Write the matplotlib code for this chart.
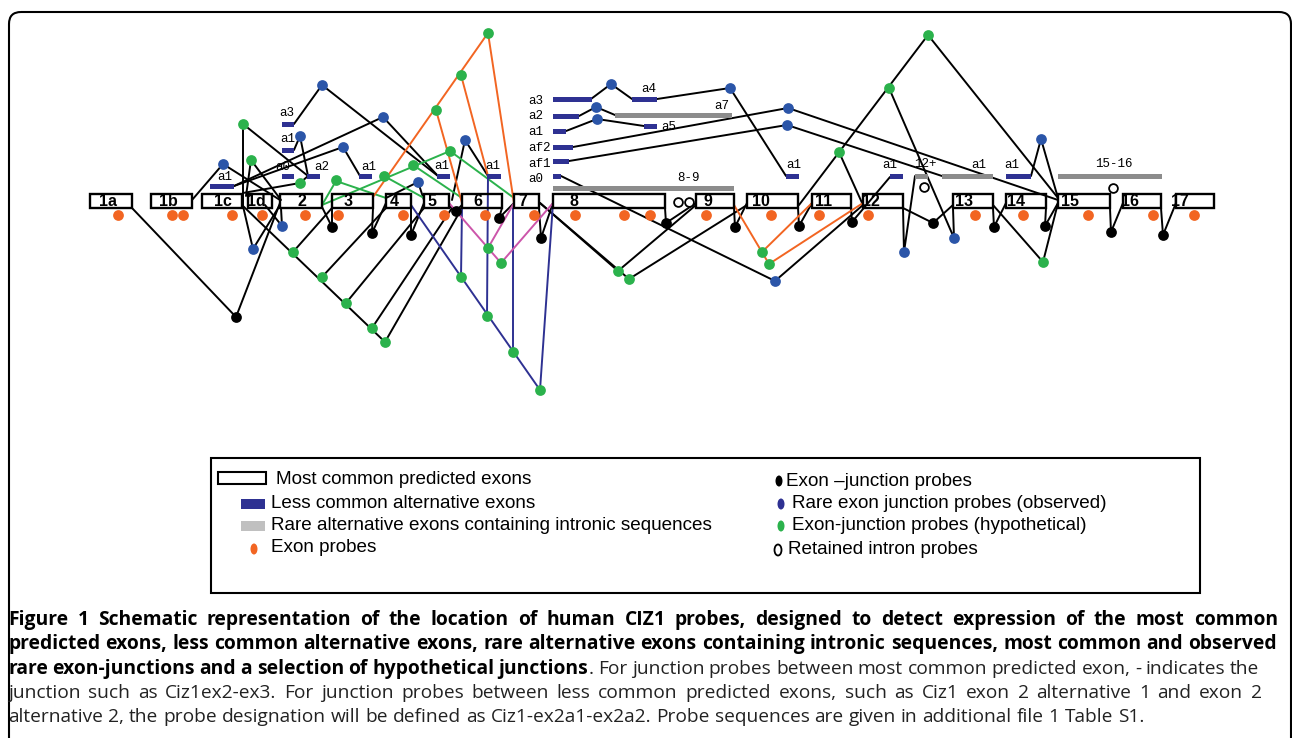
import matplotlib.pyplot as plt
from matplotlib.patches import Rectangle, FancyBboxPatch, Ellipse

# ---- exons (schematic drawn in pixel units of the original figure) ----
exon_names = ['1a', '1b', '1c', '1d', '2', '3', '4', '5', '6', '7', '8', '9',
              '10', '11', '12', '13', '14', '15', '16', '17']
exon_left = [90, 151, 202, 248, 280, 332, 386, 424, 462, 514, 553, 696,
             747, 812, 863, 953, 1006, 1058, 1123, 1176]
exon_right = [132, 192, 242, 272, 322, 373, 411, 449, 502, 539, 665, 734,
              798, 851, 903, 993, 1046, 1110, 1161, 1214]
exon_label_x = [108, 168, 223, 256, 302, 348, 394, 432, 478, 523, 574, 708,
                761, 824, 871, 964, 1016, 1070, 1130, 1180]
exon_top, exon_bottom = 194, 208

# exon probes (orange)
exon_probe_x = [118, 172, 183, 232, 262, 305, 338, 403, 444, 485, 534, 575,
                624, 650, 706, 771, 819, 868, 975, 1023, 1088, 1153, 1194]

# less common alternative exons (navy): x0, x1, y, label, label x, label y
alt_x0 = [210, 282, 282, 282, 307, 359, 437, 487, 553, 553, 553, 553, 553, 553,
          632, 644, 786, 890, 1006]
alt_x1 = [234, 294, 294, 294, 320, 372, 450, 501, 592, 579, 566, 573, 569, 561,
          657, 657, 799, 903, 1031]
alt_y = [186, 124, 150, 176, 176, 176, 176, 176, 99, 116, 131, 147, 161, 176,
         99, 126, 176, 176, 176]
alt_lab = ['a1', 'a3', 'a1', 'a0', 'a2', 'a1', 'a1', 'a1', 'a3', 'a2', 'a1',
           'af2', 'af1', 'a0', 'a4', 'a5', 'a1', 'a1', 'a1']
alt_lab_x = [225, 287, 288, 283, 322, 369, 442, 493, 528, 528, 528, 528, 528,
             528, 649, 669, 794, 890, 1012]
alt_lab_y = [177, 113, 139, 167, 167, 167, 166, 166, 101, 116, 132, 148, 164,
             179, 89, 127, 165, 165, 165]
alt_ha = ['center'] * 8 + ['left'] * 6 + ['center'] * 5

# rare alternative exons with intronic sequence (grey)
rare_x0 = [615, 553, 915, 942, 1058]
rare_x1 = [732, 734, 928, 993, 1162]
rare_y = [115, 188, 176, 176, 176]
rare_lab = ['a7', '8-9', '12+', 'a1', '15-16']
rare_lab_x = [722, 688, 925, 979, 1114]
rare_lab_y = [106, 178, 164, 165, 164]

# probes on junctions
black_x = [236, 332, 372, 411, 456, 499, 541, 666, 735, 799, 852, 933, 994,
           1045, 1111, 1163]
black_y = [317, 227, 233, 235, 211, 218, 238, 223, 227, 226, 222, 223, 227,
           226, 232, 235]
blue_x = [223, 300, 322, 343, 383, 418, 465, 253, 282, 611, 730, 596, 597,
          788, 787, 775, 904, 954, 1041]
blue_y = [164, 136, 85, 147, 117, 182, 140, 249, 226, 84, 88, 107, 119,
          108, 125, 281, 252, 238, 139]
green_x = [243, 251, 300, 336, 384, 413, 450, 436, 461, 488, 293, 322, 346,
           372, 385, 461, 487, 513, 540, 488, 501, 618, 629, 762, 769, 839,
           889, 928, 1043]
green_y = [124, 160, 183, 180, 176, 165, 151, 110, 75, 33, 252, 277, 303,
           328, 342, 277, 316, 352, 390, 248, 263, 271, 279, 252, 264, 152,
           88, 35, 262]
intron_x = [678, 689, 924, 1113]
intron_y = [202, 202, 187, 188]

# junction lines (exon end -> probe -> exon start)
black_paths = [
    [(132, 208), (236, 317), (280, 203)],
    [(322, 207), (332, 227), (332, 208)],
    [(373, 208), (372, 233), (386, 203)],
    [(411, 208), (411, 235), (424, 203)],
    [(449, 206), (456, 211), (462, 205)],
    [(502, 208), (499, 218), (514, 203)],
    [(539, 208), (541, 238), (553, 203)],
    [(665, 208), (666, 223), (696, 203)],
    [(734, 208), (735, 227), (747, 203)],
    [(798, 208), (799, 226), (812, 203)],
    [(851, 208), (852, 222), (890, 177)],
    [(903, 208), (933, 223), (953, 205)],
    [(993, 208), (994, 227), (1006, 203)],
    [(1046, 208), (1045, 226), (1058, 203)],
    [(1110, 208), (1111, 232), (1123, 203)],
    [(1161, 208), (1163, 235), (1176, 203)],
    [(192, 200), (223, 164), (280, 200)],
    [(294, 150), (300, 136), (308, 176)],
    [(294, 124), (322, 85), (438, 176)],
    [(234, 186), (343, 147), (360, 176)],
    [(234, 186), (383, 117), (438, 176)],
    [(386, 198), (418, 182), (424, 200)],
    [(452, 200), (465, 140), (488, 176)],
    [(243, 206), (253, 249), (280, 205)],
    [(265, 205), (282, 226), (281, 208)],
    [(591, 99), (611, 84), (632, 99)],
    [(657, 99), (730, 88), (786, 176)],
    [(579, 116), (596, 107), (615, 115)],
    [(566, 131), (597, 119), (644, 126)],
    [(573, 147), (788, 108), (1058, 200)],
    [(569, 161), (787, 125), (942, 176)],
    [(561, 176), (775, 281), (863, 205)],
    [(903, 208), (904, 252), (915, 176)],
    [(889, 88), (954, 238), (953, 208)],
    [(1031, 176), (1041, 139), (1058, 198)],
    [(243, 208), (243, 124), (308, 176)],
    [(246, 196), (251, 160), (281, 200)],
    [(243, 193), (300, 183), (308, 176)],
    [(243, 206), (385, 342)],
    [(293, 252), (332, 208)],
    [(322, 277), (386, 208)],
    [(346, 303), (424, 208)],
    [(372, 328), (452, 208)],
    [(385, 342), (462, 208)],
    [(540, 203), (618, 271), (696, 205)],
    [(540, 203), (629, 279), (747, 205)],
    [(799, 205), (928, 35), (1058, 198)],
    [(839, 152), (863, 205)],
    [(993, 205), (1043, 262), (1058, 203)],
]
green_paths = [
    [(322, 205), (336, 181), (386, 198)],
    [(322, 205), (450, 151), (514, 198)],
    [(384, 176), (424, 198)],
    [(413, 165), (462, 198)],
]
orange_paths = [
    [(373, 197), (488, 33), (514, 203)],
    [(436, 110), (462, 203)],
    [(461, 75), (488, 176)],
    [(734, 205), (769, 264), (863, 203)],
    [(762, 252), (812, 203)],
]
navy_paths = [
    [(411, 205), (540, 390), (553, 203)],
    [(461, 277), (462, 208)],
    [(487, 316), (488, 176)],
    [(513, 352), (513, 208)],
]
pink_paths = [
    [(449, 203), (501, 263), (553, 203)],
    [(488, 248), (514, 203)],
]

legend_left = ['Most common predicted exons', 'Less common alternative exons',
               'Rare alternative exons containing intronic sequences', 'Exon probes']
legend_right = ['Exon \u2013junction probes', 'Rare exon junction probes (observed)',
                'Exon-junction probes (hypothetical)', 'Retained intron probes']

# caption lines: list of (text, bold?) pieces, and right edge of each printed line
caption_lines = [
    [('Figure 1 Schematic representation of the location of human CIZ1 probes, designed to detect expression of the most common', True)],
    [('predicted exons, less common alternative exons, rare alternative exons containing intronic sequences, most common and observed', True)],
    [('rare exon-junctions and a selection of hypothetical junctions', True),
     ('. For junction probes between most common predicted exon, - indicates the', False)],
    [('junction such as Ciz1ex2-ex3. For junction probes between less common predicted exons, such as Ciz1 exon 2 alternative 1 and exon 2', False)],
    [('alternative 2, the probe designation will be defined as Ciz1-ex2a1-ex2a2. Probe sequences are given in additional file 1 Table S1.', False)],
]
caption_right = [1278, 1277, 1259, 1262, None]
caption_y = [620, 644, 669, 693, 717]

# colours
NAVY = '#2E3192'
BLUE = '#2B55A8'
GREEN = '#2BB24C'
ORANGE = '#F26522'
GREY = '#8C8C8C'
PINK = '#CC55AA'
CAP_FS = {True: 13.9, False: 13.75}

fig = plt.figure(figsize=(12.92, 7.38), dpi=100)
ax = fig.add_axes([0, 0, 1, 1])
ax.set_xlim(0, 1292)
ax.set_ylim(738, 0)
ax.axis('off')
renderer = fig.canvas.get_renderer()

# outer frame
ax.add_patch(FancyBboxPatch((9, 12), 1282, 800, boxstyle='round,pad=0,rounding_size=12',
                            fc='none', ec='black', lw=1.5))

# lines
for paths, col in [(black_paths, 'black'), (green_paths, GREEN), (orange_paths, ORANGE),
                   (navy_paths, NAVY), (pink_paths, PINK)]:
    for p in paths:
        ax.plot([q[0] for q in p], [q[1] for q in p], color=col, lw=1.4,
                solid_capstyle='round', zorder=2)

# exon boxes
for name, x0, x1, lx in zip(exon_names, exon_left, exon_right, exon_label_x):
    ax.add_patch(Rectangle((x0, exon_top), x1 - x0, exon_bottom - exon_top,
                           fc='none', ec='black', lw=1.7, zorder=3))
    ax.text(lx, 202, name, ha='center', va='center', fontsize=11.5,
            fontweight='bold', family='Liberation Sans', zorder=4)

# alternative exons
for x0, x1, y, lab, lx, ly, ha in zip(alt_x0, alt_x1, alt_y, alt_lab, alt_lab_x, alt_lab_y, alt_ha):
    ax.add_patch(Rectangle((x0, y - 2.5), x1 - x0, 5, fc=NAVY, ec='none', zorder=3))
    ax.text(lx, ly, lab, ha=ha, va='center', fontsize=9, family='Liberation Mono', zorder=4)
for x0, x1, y, lab, lx, ly in zip(rare_x0, rare_x1, rare_y, rare_lab, rare_lab_x, rare_lab_y):
    ax.add_patch(Rectangle((x0, y - 2.5), x1 - x0, 5, fc=GREY, ec='none', zorder=3))
    ax.text(lx, ly, lab, ha='center', va='center', fontsize=9, family='Liberation Mono', zorder=4)

# probes
ax.scatter(exon_probe_x, [215] * len(exon_probe_x), s=60, color=ORANGE, zorder=5, lw=0)
ax.scatter(black_x, black_y, s=60, color='black', zorder=5, lw=0)
ax.scatter(blue_x, blue_y, s=60, color=BLUE, zorder=5, lw=0)
ax.scatter(green_x, green_y, s=60, color=GREEN, zorder=5, lw=0)
ax.scatter(intron_x, intron_y, s=40, facecolor='white', edgecolor='black', lw=1.3, zorder=5)

# legend
ax.add_patch(Rectangle((211, 458), 989, 135, fc='none', ec='black', lw=1.5))
ax.add_patch(Rectangle((218, 472), 48, 12, fc='none', ec='black', lw=1.5))
ax.add_patch(Rectangle((241, 499), 24, 10, fc=NAVY, ec='none'))
ax.add_patch(Rectangle((241, 521), 24, 10, fc='#C0C0C0', ec='none'))
ax.add_patch(Ellipse((254, 549), 7, 11, fc=ORANGE, ec='none'))
for txt, x, y in zip(legend_left, [276, 271, 271, 271], [480, 503, 526, 548]):
    ax.text(x, y, txt, ha='left', va='center', fontsize=13.6, family='Liberation Sans')
ax.add_patch(Ellipse((779, 481), 7, 11, fc='black', ec='none'))
ax.add_patch(Ellipse((781, 504), 7, 11, fc=NAVY, ec='none'))
ax.add_patch(Ellipse((781, 526), 7, 11, fc=GREEN, ec='none'))
ax.add_patch(Ellipse((778, 550), 7, 11, fc='white', ec='black', lw=1.3))
for txt, x, y in zip(legend_right, [786, 792, 792, 788], [481, 504, 526, 549]):
    ax.text(x, y, txt, ha='left', va='center', fontsize=13.6, family='Liberation Sans')


# caption, word by word so that lines can be spread to their right edge
def text_width(s, bold):
    t = ax.text(0, 0, s, fontsize=CAP_FS[bold], fontweight='bold' if bold else 'normal',
                family='Open Sans')
    w = t.get_window_extent(renderer).width
    t.remove()
    return w


space_w = text_width('x x', False) - text_width('xx', False)
for pieces, right, y in zip(caption_lines, caption_right, caption_y):
    words = []
    for seg, bold in pieces:
        parts = seg.split(' ')
        for i, part in enumerate(parts):
            if part == '':
                continue
            if i == 0 and words and not seg.startswith(' '):
                words[-1].append((part, bold))
            else:
                words.append([(part, bold)])
    widths = [[text_width(p, b) for p, b in w] for w in words]
    natural = sum(sum(w) for w in widths) + space_w * (len(words) - 1)
    gap = space_w if right is None else space_w + (right - 8 - natural) / (len(words) - 1)
    x = 8
    for w, ws in zip(words, widths):
        for (p, b), pw in zip(w, ws):
            ax.text(x, y, p, ha='left', va='center', fontsize=CAP_FS[b],
                    fontweight='bold' if b else 'normal', family='Open Sans',
                    color='black' if b else '#222222')
            x += pw
        x += gap

fig.savefig('out.png', dpi=100)
